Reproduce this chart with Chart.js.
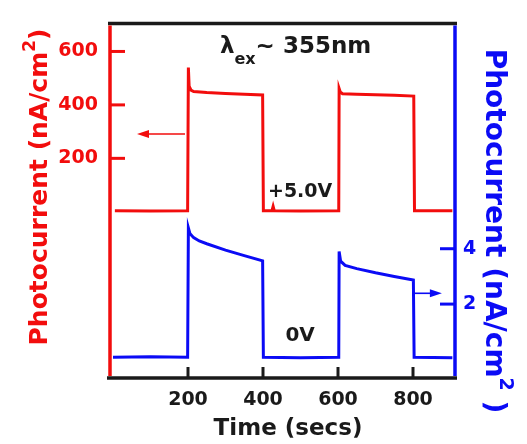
<!DOCTYPE html>
<html>
<head>
<meta charset="utf-8">
<script src="https://cdn.jsdelivr.net/npm/chart.js@4.4.1/dist/chart.umd.min.js"></script>
<style>
html,body{margin:0;padding:0;background:#fff;}
#wrap{width:527px;height:444px;}
</style>
</head>
<body>
<div id="wrap"><canvas id="chart" width="527" height="444"></canvas></div>
<script>
// photocurrent vs time, +5.0V (red, left axis) and 0V (blue, right axis)
const timeRed   = [5, 100, 199, 201, 203, 208, 215, 250, 300, 350, 399, 401, 424, 427, 430, 500, 602, 603, 606, 612, 650, 700, 750, 802, 804, 905];
const redValues = [4, 3, 4, 540, 470, 455, 450, 446, 443, 440, 437, 4, 4, 20, 4, 3, 4, 461, 448, 442, 440, 438, 436, 433, 4, 4];

const timeBlue   = [0, 100, 199, 201, 205, 215, 230, 250, 300, 350, 399, 401, 500, 602, 603, 607, 619, 650, 700, 750, 801, 803, 905];
const blueValues = [0.08, 0.1, 0.08, 4.75, 4.55, 4.4, 4.28, 4.18, 3.95, 3.75, 3.56, 0.08, 0.06, 0.08, 3.9, 3.55, 3.4, 3.28, 3.13, 3.0, 2.87, 0.08, 0.06];

const timeTicks = [200, 400, 600, 800];
const redTicks  = [200, 400, 600];
const blueTicks = [2, 4];

const FONT = '"DejaVu Sans", sans-serif';
const RED = '#f20d0d';
const BLUE = '#0b0bf5';
const BLACK = '#1a1a1a';

function toPoints(xs, ys) {
  return xs.map((x, i) => ({ x: x, y: ys[i] }));
}

function fixTicks(values) {
  return function (scale) { scale.ticks = values.map(v => ({ value: v })); };
}

function arrow(ctx, x1, y1, x2, y2, color) {
  const dir = Math.sign(x2 - x1);
  ctx.strokeStyle = color;
  ctx.fillStyle = color;
  ctx.lineWidth = 1.6;
  ctx.beginPath();
  ctx.moveTo(x1, y1);
  ctx.lineTo(x2 - dir * 8, y2);
  ctx.stroke();
  ctx.beginPath();
  ctx.moveTo(x2, y2);
  ctx.lineTo(x2 - dir * 12, y2 - 4);
  ctx.lineTo(x2 - dir * 12, y2 + 4);
  ctx.closePath();
  ctx.fill();
}

// rotated axis title with a raised "2"
function axisTitle(ctx, x, y, angle, size, color, parts) {
  ctx.save();
  ctx.translate(x, y);
  ctx.rotate(angle);
  ctx.fillStyle = color;
  ctx.textBaseline = 'alphabetic';
  ctx.textAlign = 'left';
  const big = 'bold ' + size + 'px ' + FONT;
  const small = 'bold ' + Math.round(size * 0.68) + 'px ' + FONT;
  ctx.font = big;
  const w1 = ctx.measureText(parts[0]).width;
  const w3 = ctx.measureText(parts[2]).width;
  ctx.font = small;
  const w2 = ctx.measureText(parts[1]).width;
  let cx = -(w1 + w2 + w3) / 2;
  ctx.font = big;
  ctx.fillText(parts[0], cx, 0);
  cx += w1;
  ctx.font = small;
  ctx.fillText(parts[1], cx, -size * 0.5);
  cx += w2;
  ctx.font = big;
  ctx.fillText(parts[2], cx, 0);
  ctx.restore();
}

const framePlugin = {
  id: 'frame',
  afterDatasetsDraw(chart) {
    const { ctx, chartArea: a, scales } = chart;
    const x = scales.x, yL = scales.yRed, yR = scales.yBlue;
    ctx.save();
    ctx.lineCap = 'butt';

    // inward tick marks
    ctx.lineWidth = 3;
    ctx.strokeStyle = RED;
    redTicks.forEach(v => {
      const p = yL.getPixelForValue(v);
      ctx.beginPath(); ctx.moveTo(a.left, p); ctx.lineTo(a.left + 15, p); ctx.stroke();
    });
    ctx.strokeStyle = BLUE;
    blueTicks.forEach(v => {
      const p = yR.getPixelForValue(v);
      ctx.beginPath(); ctx.moveTo(a.right, p); ctx.lineTo(a.right - 15, p); ctx.stroke();
    });
    ctx.strokeStyle = BLACK;
    timeTicks.forEach(v => {
      const p = x.getPixelForValue(v);
      ctx.beginPath(); ctx.moveTo(p, a.bottom); ctx.lineTo(p, a.bottom - 11); ctx.stroke();
    });

    // frame
    ctx.lineWidth = 3.5;
    ctx.strokeStyle = BLACK;
    ctx.beginPath(); ctx.moveTo(a.left - 2, a.top); ctx.lineTo(a.right + 2, a.top); ctx.stroke();
    ctx.beginPath(); ctx.moveTo(a.left - 3, a.bottom); ctx.lineTo(a.right + 2, a.bottom); ctx.stroke();
    ctx.strokeStyle = RED;
    ctx.beginPath(); ctx.moveTo(a.left, a.top + 2); ctx.lineTo(a.left, a.bottom - 2); ctx.stroke();
    ctx.strokeStyle = BLUE;
    ctx.beginPath(); ctx.moveTo(a.right, a.top + 2); ctx.lineTo(a.right, a.bottom - 2); ctx.stroke();

    // arrows pointing to each axis
    arrow(ctx, x.getPixelForValue(192), yL.getPixelForValue(291), x.getPixelForValue(64), yL.getPixelForValue(291), RED);
    arrow(ctx, x.getPixelForValue(805), yR.getPixelForValue(2.39), x.getPixelForValue(877), yR.getPixelForValue(2.39), BLUE);

    // labels inside the plot
    ctx.fillStyle = BLACK;
    ctx.textAlign = 'center';
    ctx.textBaseline = 'middle';
    ctx.font = 'bold 19px ' + FONT;
    ctx.fillText('+5.0V', x.getPixelForValue(499), yL.getPixelForValue(75));
    ctx.font = 'bold 20px ' + FONT;
    ctx.fillText('0V', x.getPixelForValue(499), yR.getPixelForValue(0.84));

    // excitation wavelength
    ctx.textAlign = 'left';
    ctx.textBaseline = 'alphabetic';
    let tx = x.getPixelForValue(285);
    const ty = yL.getPixelForValue(596);
    ctx.font = 'bold 23px ' + FONT;
    ctx.fillText('\u03bb', tx, ty);
    tx += ctx.measureText('\u03bb').width;
    ctx.font = 'bold 16px ' + FONT;
    ctx.fillText('ex', tx, ty + 11);
    tx += ctx.measureText('ex').width;
    ctx.font = 'bold 23px ' + FONT;
    ctx.fillText('~ 355nm', tx, ty);

    // axis titles
    axisTitle(ctx, 47, 187, -Math.PI / 2, 25, RED, ['Photocurrent (nA/cm', '2', ')']);
    axisTitle(ctx, 486, 231, Math.PI / 2, 28, BLUE, ['Photocurrent (nA/cm', '2', ' )']);
    ctx.font = 'bold 23px ' + FONT;
    ctx.fillStyle = BLACK;
    ctx.textAlign = 'center';
    ctx.fillText('Time (secs)', 288, 435);

    ctx.restore();
  }
};

new Chart(document.getElementById('chart'), {
  type: 'line',
  data: {
    datasets: [
      { label: '+5.0V', data: toPoints(timeRed, redValues), yAxisID: 'yRed', borderColor: RED, borderWidth: 3, pointRadius: 0, tension: 0, fill: false },
      { label: '0V', data: toPoints(timeBlue, blueValues), yAxisID: 'yBlue', borderColor: BLUE, borderWidth: 3, pointRadius: 0, tension: 0, fill: false }
    ]
  },
  options: {
    responsive: false,
    devicePixelRatio: 1,
    animation: false,
    layout: { padding: { top: 13, left: 0, right: 0, bottom: 0 } },
    plugins: { legend: { display: false }, tooltip: { enabled: false } },
    scales: {
      x: {
        type: 'linear', position: 'bottom', min: -8, max: 912,
        afterBuildTicks: fixTicks(timeTicks),
        afterFit: s => { s.height = 66; },
        grid: { display: false, drawTicks: false }, border: { display: false },
        ticks: { color: BLACK, padding: 11, maxRotation: 0, autoSkip: false, font: { family: FONT, size: 19, weight: 'bold' } }
      },
      yRed: {
        type: 'linear', position: 'left', min: -622, max: 705,
        afterBuildTicks: fixTicks(redTicks),
        afterFit: s => { s.width = 110; },
        grid: { display: false, drawTicks: false }, border: { display: false },
        ticks: { color: RED, padding: 12, font: { family: FONT, size: 19, weight: 'bold' } }
      },
      yBlue: {
        type: 'linear', position: 'right', min: -0.67, max: 12.14,
        afterBuildTicks: fixTicks(blueTicks),
        afterFit: s => { s.width = 72; },
        grid: { display: false, drawTicks: false }, border: { display: false },
        ticks: { color: BLUE, padding: 8, font: { family: FONT, size: 19, weight: 'bold' } }
      }
    }
  },
  plugins: [framePlugin]
});
</script>
</body>
</html>
